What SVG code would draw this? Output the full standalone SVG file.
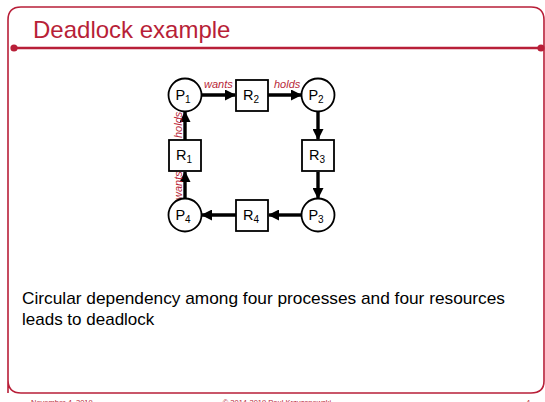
<svg xmlns="http://www.w3.org/2000/svg" width="545" height="402" viewBox="0 0 545 402">
<defs>
<style>
.frame{fill:none;stroke:#b81f38;stroke-width:1.6}
.node circle,.node rect{fill:#fff;stroke:#000;stroke-width:1.8}
.lbl{font-family:"Liberation Sans",Arial,sans-serif;font-size:14.5px;fill:#000;text-anchor:middle}
.sub{font-size:10px}
.edge{stroke:#000;stroke-width:3.4;fill:none;marker-end:url(#ah)}
.el{font-family:"Liberation Sans",Arial,sans-serif;font-size:11px;font-style:italic;fill:#b81f38}
.foot{font-family:"Liberation Sans",Arial,sans-serif;font-size:7.5px;fill:#b81f38}
</style>
<marker id="ah" markerWidth="11" markerHeight="11" refX="10" refY="5.5" orient="auto" markerUnits="userSpaceOnUse">
<path d="M0,0 L11,5.5 L0,11 Z" fill="#000"/>
</marker>
</defs>
<rect width="545" height="402" fill="#fff"/>
<path class="frame" d="M8,393 V20 Q8,7 21,7 H531 Q544,7 544,20 V381 Q544,393 531,393 H21 Q8,393 8,380 Z"/>
<line x1="14" y1="48" x2="541" y2="48" stroke="#b81f38" stroke-width="2.6"/>
<circle cx="14" cy="48" r="3.6" fill="#b81f38"/>
<circle cx="541" cy="48" r="3.6" fill="#b81f38"/>
<text x="33" y="38" font-family="Liberation Sans,Arial,sans-serif" font-size="24" fill="#b81f38">Deadlock example</text>

<g id="connectors">
<line class="edge" x1="202" y1="95" x2="235" y2="95"/>
<line class="edge" x1="268" y1="95" x2="301" y2="95"/>
<line class="edge" x1="318" y1="112" x2="318" y2="139"/>
<line class="edge" x1="318" y1="172" x2="318" y2="198"/>
<line class="edge" x1="301" y1="215" x2="269" y2="215"/>
<line class="edge" x1="236" y1="215" x2="202" y2="215"/>
<line class="edge" x1="185" y1="198" x2="185" y2="172"/>
<line class="edge" x1="185" y1="140" x2="185" y2="112"/>
<text class="el" x="204" y="88">wants</text>
<text class="el" x="274" y="88">holds</text>
<text class="el" transform="translate(182,138) rotate(-90)">holds</text>
<text class="el" transform="translate(182,200) rotate(-90)">wants</text>
</g>

<g id="P1" class="node"><circle cx="185" cy="95" r="16.5"/><text class="lbl" x="183" y="100">P<tspan class="sub" dy="3">1</tspan></text></g>
<g id="R2" class="node"><rect x="236" y="80" width="32" height="31"/><text class="lbl" x="251" y="100">R<tspan class="sub" dy="3">2</tspan></text></g>
<g id="P2" class="node"><circle cx="318" cy="95" r="16.5"/><text class="lbl" x="316" y="100">P<tspan class="sub" dy="3">2</tspan></text></g>
<g id="R3" class="node"><rect x="302" y="140" width="32" height="31"/><text class="lbl" x="317" y="160">R<tspan class="sub" dy="3">3</tspan></text></g>
<g id="P3" class="node"><circle cx="318" cy="215" r="16.5"/><text class="lbl" x="316" y="220">P<tspan class="sub" dy="3">3</tspan></text></g>
<g id="R4" class="node"><rect x="236" y="200" width="32" height="31"/><text class="lbl" x="251" y="220">R<tspan class="sub" dy="3">4</tspan></text></g>
<g id="P4" class="node"><circle cx="185" cy="215" r="16.5"/><text class="lbl" x="183" y="220">P<tspan class="sub" dy="3">4</tspan></text></g>
<g id="R1" class="node"><rect x="169" y="140" width="32" height="31"/><text class="lbl" x="184" y="160">R<tspan class="sub" dy="3">1</tspan></text></g>

<text x="22" y="304" font-family="Liberation Sans,Arial,sans-serif" font-size="17" fill="#000" textLength="483" lengthAdjust="spacingAndGlyphs">Circular dependency among four processes and four resources</text>
<text x="22" y="325" font-family="Liberation Sans,Arial,sans-serif" font-size="17" fill="#000">leads to deadlock</text>

<text class="foot" x="31" y="405">November 4, 2019</text>
<text class="foot" x="277" y="405" text-anchor="middle">© 2014-2019 Paul Krzyzanowski</text>
<text class="foot" x="526" y="405">4</text>
</svg>
